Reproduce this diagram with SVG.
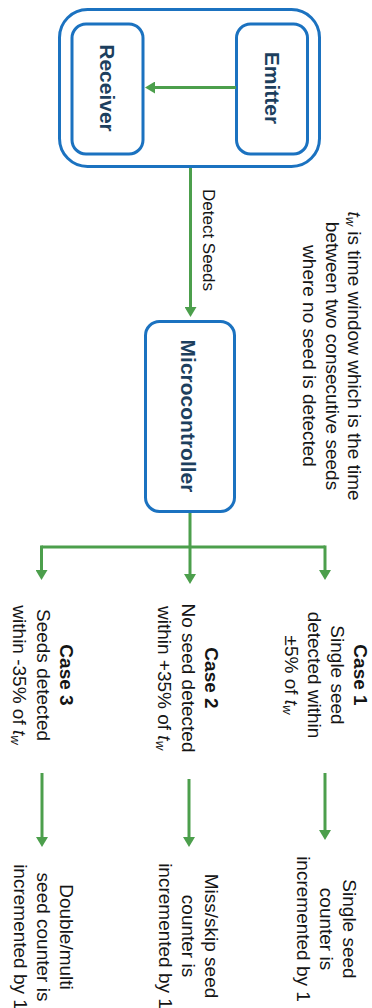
<svg xmlns="http://www.w3.org/2000/svg" width="372" height="1008" viewBox="0 0 372 1008">
<style>
.box{fill:#fff;stroke:#1b72c0;stroke-width:3}
.lbl{font-family:"Liberation Sans",Arial,sans-serif;font-weight:bold;font-size:21px;fill:#1d3f5e;text-anchor:middle;dominant-baseline:central}
.txt{font-family:"Liberation Sans",Arial,sans-serif;font-size:19px;fill:#151515;text-anchor:middle;dominant-baseline:central}
.b{font-weight:bold}
.con{stroke:#4c9f4c;stroke-width:3;fill:none}
.i{font-style:italic}
</style>
<defs>
<marker id="ah" viewBox="0 0 10 12" refX="5" refY="6" markerWidth="10" markerHeight="12" markerUnits="userSpaceOnUse" orient="auto">
<path d="M0,0 L10,6 L0,12 z" fill="#4c9f4c"/>
</marker>
</defs>
<rect width="372" height="1008" fill="#fff"/>
<g id="sensor">
<rect class="box" x="59.5" y="9.5" width="260" height="157" rx="28"/>
</g>
<g id="emitter">
<rect class="box" x="236.5" y="24" width="71" height="130" rx="14"/>
<text class="lbl" transform="translate(272,88) rotate(90)">Emitter</text>
</g>
<g id="receiver">
<rect class="box" x="72" y="24" width="71" height="130" rx="14"/>
<text class="lbl" transform="translate(107,88) rotate(90)">Receiver</text>
</g>
<g id="microcontroller">
<rect class="box" x="145.5" y="321.5" width="89" height="190" rx="14"/>
<text class="lbl" transform="translate(188,416) rotate(90)">Microcontroller</text>
</g>
<g id="note">
<text class="txt" transform="translate(332.5,356) rotate(90)"><tspan x="0" y="-22.5"><tspan class="i">t</tspan><tspan class="i" font-size="13" baseline-shift="-4">w</tspan> is time window which is the time</tspan><tspan x="0" y="0">between two consecutive seeds</tspan><tspan x="0" y="22.5">where no seed is detected</tspan></text>
</g>
<g id="case1">
<text class="txt" transform="translate(326.5,675) rotate(90)"><tspan x="0" y="-34.5" class="b">Case 1</tspan><tspan x="0" y="-11.5">Single seed</tspan><tspan x="0" y="11.5">detected within</tspan><tspan x="0" y="34.5">±5% of <tspan class="i">t</tspan><tspan class="i" font-size="13" baseline-shift="-4">w</tspan></tspan></text>
</g>
<g id="case2">
<text class="txt" transform="translate(188.5,678) rotate(90)"><tspan x="0" y="-23.5" class="b">Case 2</tspan><tspan x="0" y="0">No seed detected</tspan><tspan x="0" y="23.5">within +35% of <tspan class="i">t</tspan><tspan class="i" font-size="13" baseline-shift="-4">w</tspan></tspan></text>
</g>
<g id="case3">
<text class="txt" transform="translate(43.5,675) rotate(90)"><tspan x="0" y="-23.5" class="b">Case 3</tspan><tspan x="0" y="0">Seeds detected</tspan><tspan x="0" y="23.5">within -35% of <tspan class="i">t</tspan><tspan class="i" font-size="13" baseline-shift="-4">w</tspan></tspan></text>
</g>
<g id="result1">
<text class="txt" transform="translate(327,929) rotate(90)"><tspan x="0" y="-23">Single seed</tspan><tspan x="0" y="0">counter is</tspan><tspan x="0" y="23">incremented by 1</tspan></text>
</g>
<g id="result2">
<text class="txt" transform="translate(189,936) rotate(90)"><tspan x="0" y="-23">Miss/skip seed</tspan><tspan x="0" y="0">counter is</tspan><tspan x="0" y="23">incremented by 1</tspan></text>
</g>
<g id="result3">
<text class="txt" transform="translate(43.5,937) rotate(90)"><tspan x="0" y="-23">Double/multi</tspan><tspan x="0" y="0">seed counter is</tspan><tspan x="0" y="23">incremented by 1</tspan></text>
</g>
<g id="connectors">
<line class="con" x1="236" y1="87.5" x2="150" y2="87.5" marker-end="url(#ah)"/>
<line class="con" x1="190.5" y1="168" x2="190.5" y2="312" marker-end="url(#ah)"/>
<text class="txt" font-size="17" transform="translate(208,240) rotate(90)" style="font-size:17px">Detect Seeds</text>
<path class="con" d="M190,513 V547 M41.5,547 H325"/>
<line class="con" x1="41.5" y1="545.5" x2="41.5" y2="575" marker-end="url(#ah)"/>
<line class="con" x1="190" y1="547" x2="190" y2="579" marker-end="url(#ah)"/>
<line class="con" x1="325" y1="545.5" x2="325" y2="575" marker-end="url(#ah)"/>
<line class="con" x1="325" y1="773" x2="325" y2="835" marker-end="url(#ah)"/>
<line class="con" x1="189" y1="779" x2="189" y2="842" marker-end="url(#ah)"/>
<line class="con" x1="42" y1="773" x2="42" y2="842" marker-end="url(#ah)"/>
</g>
</svg>
